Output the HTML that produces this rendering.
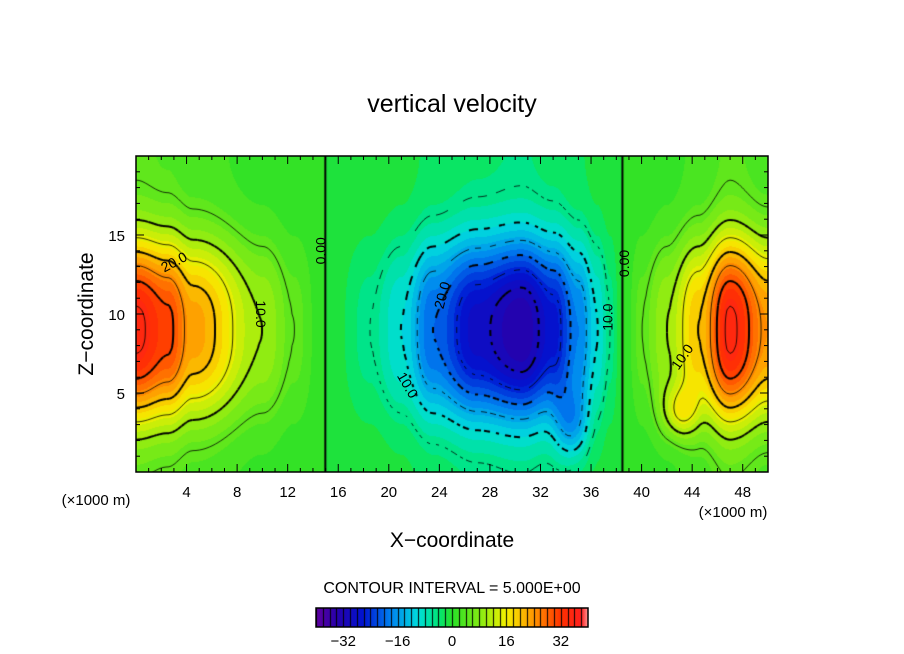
<!DOCTYPE html>
<html><head><meta charset="utf-8"><style>
body{margin:0;background:#fff;}
#wrap{position:relative;width:904px;height:654px;overflow:hidden;background:#fff;font-family:"Liberation Sans",sans-serif;}
canvas{position:absolute;}
svg{position:absolute;left:0;top:0;}
</style></head><body>
<div id="wrap">
<canvas id="fieldCanvas" width="632" height="316" style="left:136px;top:156px"></canvas>
<canvas id="cbarCanvas" width="272" height="19" style="left:316px;top:608px"></canvas>
<svg id="ov" width="904" height="654">
<text x="452" y="112" font-size="25" text-anchor="middle">vertical velocity</text>
<text x="452" y="547" font-size="21" text-anchor="middle">X−coordinate</text>
<text transform="translate(93,314) rotate(-90)" font-size="21" text-anchor="middle">Z−coordinate</text>
<text x="96" y="505" font-size="15" text-anchor="middle">(×1000 m)</text>
<text x="733" y="517" font-size="15" text-anchor="middle">(×1000 m)</text>
<text x="452" y="593" font-size="16" text-anchor="middle">CONTOUR INTERVAL = 5.000E+00</text>
<g id="xtG"></g>
<g id="ytG"></g>
<g id="cbtG"></g>
<g id="clabG"></g>
<rect x="136" y="156" width="632" height="316" fill="none" stroke="#000" stroke-width="1.5"/>
<rect x="316" y="608" width="272" height="19" fill="none" stroke="#000" stroke-width="1.5"/>
</svg>
</div>
<script>
// x-profile of vertical velocity at mid-height
var profX = [0, 2.5, 4.5, 10, 12.5, 15, 18.5, 21, 23.5, 27, 30.5, 33, 35, 36.5, 37.5, 38.5, 40, 42, 44.5, 47, 50];
var profV = [36, 31, 23, 10, 5, 0, -5, -10, -20, -29, -34, -27, -18, -10, -5, 0, 5, 10, 20, 36, 24];
// extra local features
var blobX  = [43,  34.5];
var blobZ  = [3.8, 3.0];
var blobA  = [10,  -10];
var blobSX = [1.0, 0.9];
var blobSZ = [1.2, 1.6];
var xTicks = [4,8,12,16,20,24,28,32,36,40,44,48];
var zTicks = [5,10,15];
var cbTicks = [-32,-16,0,16,32];
var levels = [-30,-25,-20,-15,-10,-5,0,5,10,15,20,25,30,35];
var cLabels = [["20.0",3,13.3,-28],["10.0",9.9,10,90],["0.00",14.6,14,-90],["20.0",24.2,11.2,-75],["10.0",21.5,5.5,60],["10.0",37.3,9.8,-90],["0.00",38.6,13.2,-90],["10.0",43.2,7.3,-55]];

(function(){
var X0=136,Y0=156,W=632,H=316,XMAX=50,ZMAX=20;
function px(x){return X0+x/XMAX*W;}
function pz(z){return Y0+H-z/ZMAX*H;}
function profileAt(x){
  if(x<=profX[0])return profV[0];
  for(var i=1;i<profX.length;i++){
    if(x<=profX[i]){var t=(x-profX[i-1])/(profX[i]-profX[i-1]);var s=(1-Math.cos(Math.PI*t))/2;return profV[i-1]+(profV[i]-profV[i-1])*s;}
  }
  return profV[profV.length-1];
}
function zShape(z){return 0.12+0.88*Math.exp(-Math.pow(Math.abs(z-9.0),2.6)/90);}
function fieldAt(x,z){
  var v=profileAt(x)*zShape(z);
  for(var i=0;i<blobX.length;i++){
    var dx=x-blobX[i],dz=z-blobZ[i];
    v+=blobA[i]*Math.exp(-dx*dx/(2*blobSX[i]*blobSX[i])-dz*dz/(2*blobSZ[i]*blobSZ[i]));
  }
  return v;
}
var stops=[[-40,[96,0,160]],[-34,[40,0,170]],[-26,[0,20,210]],[-18,[0,130,240]],[-10,[0,220,220]],[-4,[0,230,120]],[0,[40,225,40]],[8,[130,235,20]],[16,[245,240,0]],[24,[255,150,0]],[32,[255,50,0]],[38,[255,30,30]],[40,[255,150,150]]];
function colorAt(v){
  v=Math.max(-40,Math.min(40,v));
  for(var i=1;i<stops.length;i++){
    if(v<=stops[i][0]){var a=stops[i-1],b=stops[i],t=(v-a[0])/(b[0]-a[0]);
      return [0,1,2].map(function(k){return Math.round(a[1][k]+(b[1][k]-a[1][k])*t);});}
  }
  return stops[stops.length-1][1];
}
var fc=document.getElementById('fieldCanvas').getContext('2d');
var img=fc.createImageData(W,H);
for(var j=0;j<H;j++)for(var i=0;i<W;i++){
  var x=(i+0.5)/W*XMAX,z=(H-j-0.5)/H*ZMAX;
  var v=fieldAt(x,z);v=Math.floor(v/2)*2+1;
  var c=colorAt(v);var p=(j*W+i)*4;
  img.data[p]=c[0];img.data[p+1]=c[1];img.data[p+2]=c[2];img.data[p+3]=255;
}
fc.putImageData(img,0,0);
var st=3,nx=Math.ceil(W/st)+1,ny=Math.ceil(H/st)+1;var grid=[];
for(var j2=0;j2<ny;j2++){grid[j2]=[];for(var i2=0;i2<nx;i2++)grid[j2][i2]=fieldAt(i2*st/W*XMAX,(H-j2*st)/H*ZMAX);}
fc.strokeStyle='#000';
levels.forEach(function(L){
  fc.lineWidth=(L%10===0)?2:0.8;
  for(var j=0;j<ny-1;j++)for(var i=0;i<nx-1;i++){
    var a=grid[j][i],b=grid[j][i+1],c=grid[j+1][i+1],d=grid[j+1][i];
    var pts=[];
    var e=function(p,q,x1,y1,x2,y2){if((p-L)*(q-L)<0){var t=(L-p)/(q-p);pts.push([x1+(x2-x1)*t,y1+(y2-y1)*t]);}};
    var x=i*st,y=j*st;
    e(a,b,x,y,x+st,y);e(b,c,x+st,y,x+st,y+st);e(c,d,x+st,y+st,x,y+st);e(d,a,x,y+st,x,y);
    for(var k=0;k+1<pts.length;k+=2){
      var mx=(pts[k][0]+pts[k+1][0])/2,my=(pts[k][1]+pts[k+1][1])/2;
      if(L<0 && Math.floor((mx+my)/6)%2===1)continue;
      fc.beginPath();fc.moveTo(pts[k][0],pts[k][1]);fc.lineTo(pts[k+1][0],pts[k+1][1]);fc.stroke();
    }
  }
});
var cc=document.getElementById('cbarCanvas').getContext('2d');
for(var q=0;q<272;q++){var vv=-40+(q+0.5)/272*80;var cq=colorAt(vv);cc.fillStyle='rgb('+cq[0]+','+cq[1]+','+cq[2]+')';cc.fillRect(q,0,1,19);}
cc.fillStyle='#000';for(var w=-40;w<=40;w+=2){cc.fillRect(Math.round((w+40)/80*272),0,1,19);}
var NS='http://www.w3.org/2000/svg';
function mk(tag,attrs,parent,txt){var el=document.createElementNS(NS,tag);for(var k in attrs)el.setAttribute(k,attrs[k]);if(txt!==undefined)el.textContent=txt;parent.appendChild(el);return el;}
var xtG=document.getElementById('xtG'),ytG=document.getElementById('ytG'),cbtG=document.getElementById('cbtG'),clG=document.getElementById('clabG');
for(var v1=1;v1<XMAX;v1++){var xx=px(v1),len=(v1%4===0)?8:4;
  var t1=mk('line',{x1:xx,x2:xx,y1:472,y2:472-len,stroke:'#000'},xtG);
  
  
  var t2=mk('line',{x1:xx,x2:xx,y1:156,y2:156+len,stroke:'#000'},xtG);
  
  
}
xTicks.forEach(function(v){var t=mk('text',{x:px(v),y:497,'font-size':15,'text-anchor':'middle'},xtG,String(v));
  
  });
for(var v2=1;v2<ZMAX;v2++){var yy=pz(v2),len2=(v2%5===0)?8:4;
  var t3=mk('line',{x1:136,x2:136+len2,y1:yy,y2:yy,stroke:'#000'},ytG);
  
  
  var t4=mk('line',{x1:768,x2:768-len2,y1:yy,y2:yy,stroke:'#000'},ytG);
  
  
}
zTicks.forEach(function(v){var t=mk('text',{x:125,y:pz(v)+6,'font-size':15,'text-anchor':'end'},ytG,String(v));
  
  });
cbTicks.forEach(function(v){var t=mk('text',{x:316+(v+40)/80*272,y:646,'font-size':15,'text-anchor':'middle'},cbtG,v<0?'−'+(-v):String(v));
  
  });
cLabels.forEach(function(l){var t=mk('text',{x:0,y:5,'font-size':14,'text-anchor':'middle',transform:'translate('+px(l[1])+','+pz(l[2])+') rotate('+l[3]+')',fill:'#000'},clG,l[0]);
  
  });
})();
</script>
</body></html>
